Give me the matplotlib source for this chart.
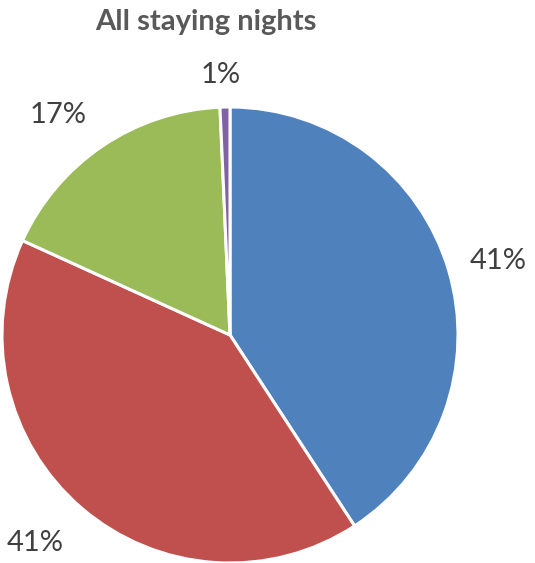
import matplotlib
matplotlib.use("Agg")
import matplotlib.pyplot as plt
import numpy as np

categories = ["A", "B", "C", "D"]
values = [40.8, 41.0, 17.5, 0.7]
labels = ["41%", "41%", "17%", "1%"]
colors = ["#4F81BD", "#C0504D", "#9BBB59", "#8064A2"]
label_dist = [1.22, 1.25, 1.225, 1.14]
label_angle_shift = [-1.2, -2.5, 4.0, 0.8]

W, H = 535, 563
fig = plt.figure(figsize=(W / 100, H / 100), dpi=100)
cx, cy, r = 230, 335, 228
ax = fig.add_axes([(cx - r) / W, (H - cy - r) / H, 2 * r / W, 2 * r / H])
wedges, texts = ax.pie(values, labels=labels, colors=colors, startangle=90,
                       counterclock=False, radius=1.0, labeldistance=1.22,
                       wedgeprops=dict(edgecolor="white", linewidth=2.2),
                       textprops=dict(fontsize=21, color="#404040", family="Lato"))
for w, t, d, s in zip(wedges, texts, label_dist, label_angle_shift):
    ang = np.deg2rad((w.theta1 + w.theta2) / 2 + s)
    t.set_position((d * np.cos(ang), d * np.sin(ang)))
    t.set_ha("center")
    t.set_va("center")
ax.set_xlim(-1, 1)
ax.set_ylim(-1, 1)
ax.set_aspect("equal")
ax.axis("off")

fig.text(206 / W, 1 - 22 / H, "All staying nights", ha="center", va="center",
         fontsize=21, fontweight="bold", color="#595959", family="Lato")

fig.savefig("out.png", dpi=100)
